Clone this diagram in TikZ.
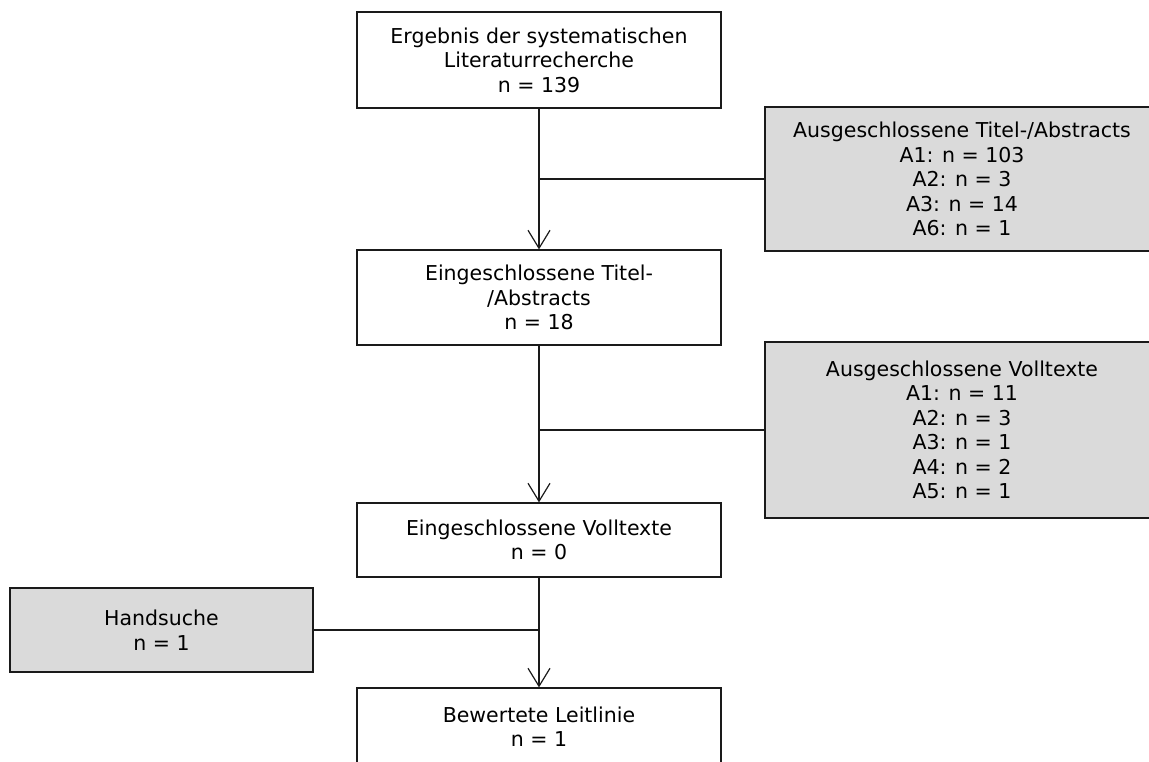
\documentclass[tikz,border=0pt]{standalone}
\usepackage{fontspec}
\setmainfont{DejaVu Sans}
\usetikzlibrary{arrows.meta}
\definecolor{boxgray}{HTML}{DADADA}
\definecolor{edge}{HTML}{1A1A1A}
\begin{document}
\begin{tikzpicture}[x=1pt,y=-1pt,
  box/.style={draw=edge, line width=1.2pt, fill=white, minimum width=364pt, align=center, inner sep=0pt, font=\fontsize{20.5}{24.5}\selectfont},
  gbox/.style={box, fill=boxgray},
  arr/.style={draw=edge, line width=1.2pt, -{Straight Barb[length=18pt,width=22pt,line width=1.2pt]}},
  conn/.style={draw=edge, line width=1.2pt}
]
\useasboundingbox (0,0) rectangle (1149,761);
\clip (0,0) rectangle (1149,761);

\node[box, minimum height=96pt] (b1) at (539,60) {Ergebnis der systematischen\\Literaturrecherche\\n = 139};
\node[box, minimum height=95pt] (b2) at (539,297.5) {Eingeschlossene Titel-\\/Abstracts\\n = 18};
\node[box, minimum height=74pt] (b3) at (539,540) {Eingeschlossene Volltexte\\n = 0};
\node[box, minimum height=77pt] (b4) at (539,726.5) {Bewertete Leitlinie\\n = 1};

\node[gbox, minimum width=394pt, minimum height=144pt] (gA) at (962,179) {Ausgeschlossene Titel-/Abstracts\\A1: n = 103\\A2: n = 3\\A3: n = 14\\A6: n = 1};
\node[gbox, minimum width=394pt, minimum height=176pt] (gB) at (962,430) {Ausgeschlossene Volltexte\\A1: n = 11\\A2: n = 3\\A3: n = 1\\A4: n = 2\\A5: n = 1};
\node[gbox, minimum width=303pt, minimum height=84pt] (hs) at (161.5,630) {Handsuche\\n = 1};

\draw[arr] (b1) -- (b2);
\draw[arr] (b2) -- (b3);
\draw[arr] (b3) -- (b4);
\draw[conn] (gA.west) -- (gA.west -| b1.south);
\draw[conn] (gB.west) -- (gB.west -| b2.south);
\draw[conn] (hs.east) -- (hs.east -| b3.south);
\end{tikzpicture}
\end{document}
